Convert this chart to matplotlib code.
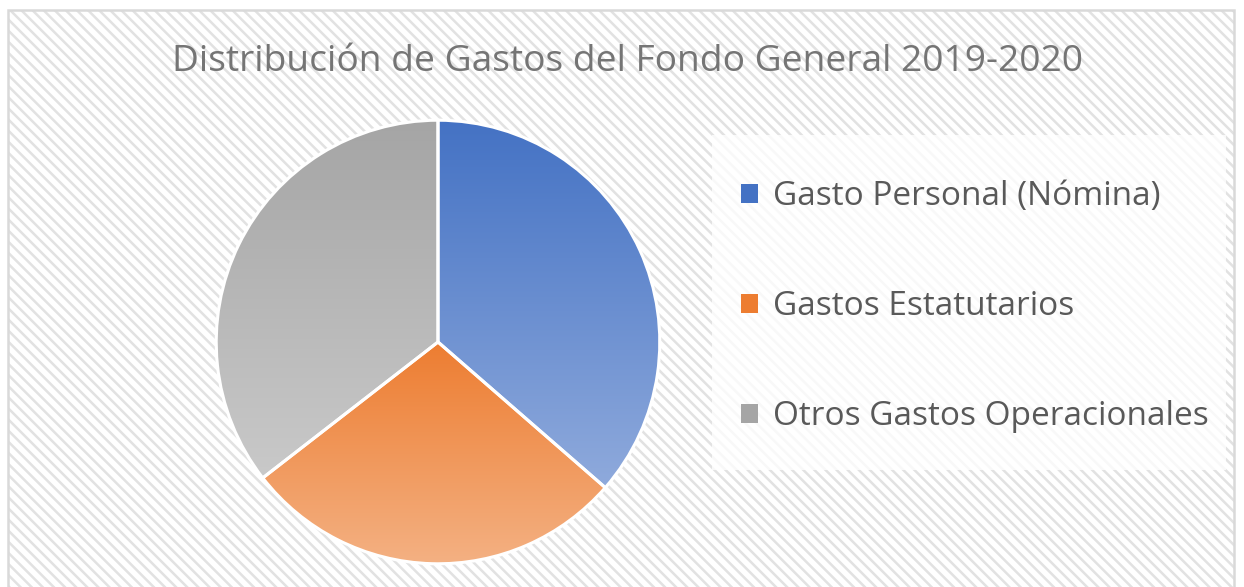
import numpy as np
import matplotlib
matplotlib.use("Agg")
import matplotlib.pyplot as plt
from matplotlib.patches import Rectangle, Patch
from matplotlib.colors import LinearSegmentedColormap

title = "Distribución de Gastos del Fondo General 2019-2020"
categories = ["Gasto Personal (Nómina)", "Gastos Estatutarios", "Otros Gastos Operacionales"]
values = [36.4, 28.1, 35.5]
dark_colors = ["#4472C4", "#ED7D31", "#A5A5A5"]
light_colors = ["#8FAADC", "#F4B183", "#C9C9C9"]

plt.rcParams['hatch.linewidth'] = 1.8
plt.rcParams['font.family'] = ['Open Sans', 'DejaVu Sans']

W, H = 1244, 587
fig = plt.figure(figsize=(W / 100, H / 100), dpi=100)
fig.patch.set_facecolor("white")

# hatched chart area background with border
bg = Rectangle((8 / W, -0.01), (1234 - 8) / W, (H - 10) / H + 0.01, transform=fig.transFigure,
               facecolor="white", edgecolor="#e2e2e2", hatch="\\\\\\", linewidth=0, zorder=-3)
fig.add_artist(bg)
border = Rectangle((8 / W, -0.01), (1234 - 8) / W, (H - 10) / H + 0.01, transform=fig.transFigure,
                   facecolor="none", edgecolor="#d9d9d9", linewidth=1.8, zorder=-2)
fig.add_artist(border)

# pie
cx, cy, r = 438, 342, 224
ax = fig.add_axes([(cx - r) / W, (H - cy - r) / H, 2 * r / W, 2 * r / H])
ax.set_zorder(2)
ax.patch.set_alpha(0)
wedges, _ = ax.pie(values, startangle=90, counterclock=False, radius=1,
                   wedgeprops=dict(facecolor="none", edgecolor="white", linewidth=2.2, zorder=3))
ax.set_aspect("equal")
ax.axis("off")

for w, dc, lc in zip(wedges, dark_colors, light_colors):
    verts = w.get_path().vertices
    ext = w.get_patch_transform().transform(verts)
    x0, x1 = ext[:, 0].min(), ext[:, 0].max()
    y0, y1 = ext[:, 1].min(), ext[:, 1].max()
    cmap = LinearSegmentedColormap.from_list("g", [lc, dc])
    grad = np.linspace(0, 1, 256).reshape(-1, 1)
    im = ax.imshow(grad, cmap=cmap, extent=[x0, x1, y0, y1], origin="lower",
                   aspect="auto", zorder=2, interpolation="bilinear")
    im.set_clip_path(w)

ax.set_xlim(-1.01, 1.01)
ax.set_ylim(-1.01, 1.01)

# title
fig.text(627 / W, 1 - 62 / H, title, ha="center", va="center", fontsize=26.7, color="#757575")

# legend
lx0, ly0, lx1, ly1 = 712, 135, 1226, 470
fig.add_artist(Rectangle((lx0 / W, 1 - ly1 / H), (lx1 - lx0) / W, (ly1 - ly0) / H,
                         transform=fig.transFigure, facecolor="white", alpha=0.78,
                         edgecolor="none", zorder=-1))
handles = [Patch(facecolor=c, edgecolor="none") for c in dark_colors]
leg = fig.legend(handles, categories, loc="upper left",
                 bbox_to_anchor=(711 / W, 1 - 150 / H), frameon=False,
                 fontsize=24, labelcolor="#595959", labelspacing=2.31,
                 handlelength=0.5, handleheight=0.5, handletextpad=0.45)

fig.savefig("out.png", dpi=100)
